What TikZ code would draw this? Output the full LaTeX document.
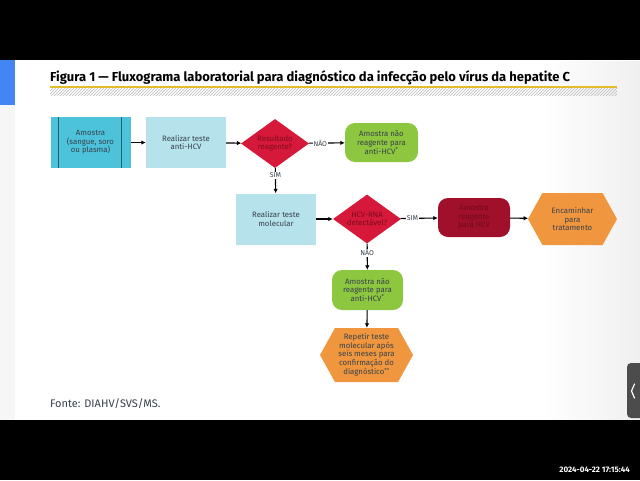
\documentclass[tikz,border=0pt]{standalone}
\usepackage{fontspec}
\setmainfont{Fira Sans}
\newfontfamily\titlefont{Fira Sans}
\usetikzlibrary{arrows.meta,shapes.geometric,shapes.symbols,patterns}
\definecolor{cyanbox}{RGB}{77,194,219}
\definecolor{cyanline}{RGB}{30,95,115}
\definecolor{lightbox}{RGB}{182,226,236}
\definecolor{dmdred}{RGB}{214,25,58}
\definecolor{dmdtxt}{RGB}{125,10,28}
\definecolor{greenbox}{RGB}{141,198,63}
\definecolor{darkred}{RGB}{160,16,42}
\definecolor{darkredtxt}{RGB}{112,10,30}
\definecolor{orangebox}{RGB}{240,150,62}
\definecolor{txtgray}{RGB}{55,65,75}
\definecolor{yelline}{RGB}{228,188,40}
\definecolor{tabblue}{RGB}{66,133,244}

\begin{document}
\begin{tikzpicture}[x=1pt, y=-1pt, every node/.style={font=\fontsize{7.8}{8.6}\selectfont, text=txtgray}, >={Latex[length=4.5pt,width=4.5pt]}, bx/.style={align=center, minimum width=80pt, minimum height=51pt, inner sep=2pt}, rbx/.style={rounded corners=10pt, align=center, minimum width=73pt, minimum height=39pt, inner sep=1pt}, dmd/.style={diamond, aspect=1.4, align=center, fill=dmdred, text=dmdtxt, minimum width=68pt, minimum height=49pt, inner sep=0pt}, hx/.style={signal, signal to=east and west, signal pointer angle=122, fill=orangebox, align=center, inner sep=1pt}, lbl/.style={fill=white, inner sep=1pt, font=\fontsize{7}{8}\selectfont}, arr/.style={->, line width=1.1pt}]
	\useasboundingbox (0,0) rectangle (640,480);
	% screen and page
	\fill[black] (0,0) rectangle (640,480);
	\fill[white] (0,60) rectangle (640,420);
	\begin{scope}
		\clip (540,61) rectangle (640,419);
		\shade[left color=white, right color=gray!12] (540,60) rectangle (640,420);
	\end{scope}
	\fill[gray!7] (0,60) rectangle (15,420);
	\fill[tabblue] (0,60) rectangle (15,105);
	% title
	\node[anchor=base west, inner sep=0pt, text=black] (title) at (50,81) {\titlefont\bfseries\fontsize{13}{15}\selectfont Figura 1 — Fluxograma laboratorial para diagnóstico da infecção pelo vírus da hepatite C};
	\draw[yelline, line width=1.2pt] (50,87) -- (617,87);
	\fill[pattern=north east lines, pattern color=gray!55] (50,88.5) rectangle (617,95);
	% boxes
	\node[bx, fill=cyanbox] (amostra) at (90.5,142.5) {Amostra\\(sangue, soro\\ou plasma)};
	\draw[cyanline, line width=0.8pt] ([xshift=8pt]amostra.north west) -- ([xshift=8pt]amostra.south west);
	\draw[cyanline, line width=0.8pt] ([xshift=-9pt]amostra.north east) -- ([xshift=-9pt]amostra.south east);
	\node[bx, fill=lightbox] (antihcv) at (186,142.5) {Realizar teste\\anti-HCV};
	\node[dmd] (reag) at (275,143.5) {Resultado\\reagente?};
	\node[rbx, fill=greenbox] (naoreag) at (381.5,142.5) {Amostra não\\reagente para\\anti-HCV\textsuperscript{*}};
	\node[bx, fill=lightbox] (molec) at (276,219) {Realizar teste\\molecular};
	\node[dmd] (hcvrna) at (367,219) {HCV-RNA\\detectável?};
	\node[rbx, fill=darkred, text=darkredtxt, minimum width=72pt] (reagpos) at (474,217.5) {Amostra\\reagente\\para HCV};
	\node[hx, minimum width=89pt, minimum height=52pt] (trat) at (572.5,219) {Encaminhar\\para\\tratamento};
	\node[rbx, fill=greenbox, minimum width=71pt, minimum height=40pt] (naoreag2) at (367.5,290) {Amostra não\\reagente para\\anti-HCV\textsuperscript{*}};
	\node[hx, minimum width=93pt, minimum height=54pt] (repetir) at (366.5,355) {Repetir teste\\molecular após\\seis meses para\\confirmação do\\diagnóstico\textsuperscript{**}};
	% connectors
	\draw[arr] (amostra) -- (antihcv);
	\draw[arr] (antihcv) -- (reag);
	\draw[arr] (reag) -- node[lbl, pos=0.32] {NÃO} (naoreag);
	\draw[arr] (reag) -- node[lbl, pos=0.3] {SIM} (molec);
	\draw[arr] (molec) -- (hcvrna);
	\draw[arr] (hcvrna) -- node[lbl, pos=0.32] {SIM} (reagpos);
	\draw[arr] (reagpos) -- (trat);
	\draw[arr] (hcvrna) -- node[lbl, pos=0.35] {NÃO} (naoreag2);
	\draw[arr] (naoreag2) -- (repetir);
	% footer
	\node[anchor=base west, inner sep=0pt, font=\fontsize{11}{12}\selectfont] (fonte) at (50,407) {Fonte: DIAHV/SVS/MS.};
	\fill[gray!60!black, rounded corners=4pt] (627,363) rectangle (650,418);
	\draw[white, line width=1.2pt, line cap=round] (634.5,384) -- (631.5,391) -- (634.5,398);
	\node[anchor=base east, inner sep=0pt, text=white, font=\bfseries\fontsize{8}{9}\selectfont] (stamp) at (630,472) {2024-04-22 17:15:44};
\end{tikzpicture}
\end{document}
